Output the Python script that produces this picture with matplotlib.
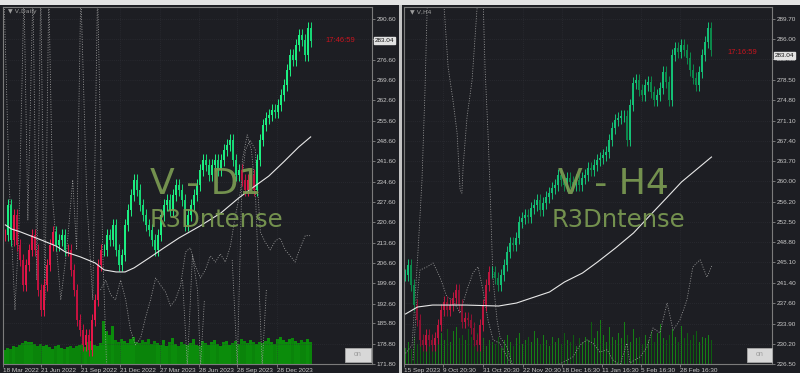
import matplotlib
matplotlib.use("Agg")
import matplotlib.pyplot as plt
import matplotlib.transforms as mtransforms
from matplotlib.patches import Rectangle

plt.rcParams['font.family'] = ['Liberation Sans', 'DejaVu Sans']

W, H = 800, 373
BG = "#1d1e23"

# ---------------- V, Daily ----------------
d1_close = [216.2, 226.6, 214.5, 223.1, 212.8, 207.6, 199.0, 205.9, 211.1, 216.2,
            211.1, 197.3, 190.4, 199.0, 205.9, 212.8, 217.3, 212.8, 214.5, 216.2,
            211.1, 211.1, 204.2, 197.3, 187.0, 183.5, 178.4, 181.8, 176.6, 187.0,
            193.9, 205.9, 211.1, 211.1, 216.2, 214.5, 219.7, 211.1, 205.9, 209.3,
            219.7, 224.8, 230.0, 235.2, 231.7, 226.6, 223.1, 219.7, 217.9, 214.5,
            211.1, 216.2, 223.1, 226.6, 228.3, 224.8, 230.0, 233.4, 231.7, 228.3,
            219.7, 223.1, 226.6, 230.0, 233.4, 238.6, 242.1, 240.3, 236.9, 240.3,
            242.1, 238.6, 242.1, 245.5, 247.2, 248.9, 242.1, 236.9, 238.6, 235.2,
            231.7, 235.2, 236.9, 231.7, 242.1, 248.9, 254.1, 256.5, 257.5, 259.3,
            258.6, 261.0, 264.4, 267.9, 273.0, 278.2, 276.5, 281.6, 285.1, 283.4,
            278.2, 287.5, 283.0]
d1_red_spans = [(0, 0), (3, 16), (21, 32), (79, 83)]
d1_volume = [4.5, 5.0, 4.8, 5.5, 5.2, 6.0,
             6.5, 7.2, 6.8, 7.0, 6.2,
             5.8, 6.3, 5.5, 6.0, 5.2, 4.8, 5.6, 6.1, 5.0, 4.6, 5.3, 5.8, 4.9, 5.5, 6.0,
             6.2, 5.4, 6.8, 7.1, 6.0, 5.8, 6.5,
             13.5, 10.2, 9.0, 11.8,
             7.5, 6.8, 8.0, 7.2, 6.5, 7.8, 8.5, 7.0, 6.6, 7.4, 6.8, 7.9, 6.2, 7.1, 6.7,
             6.0, 7.4, 5.6, 6.8, 8.2, 6.4, 5.8, 7.0, 6.2, 5.9,
             6.6, 7.8, 6.1, 5.7, 7.2, 6.5, 5.9, 6.8, 7.5, 6.3, 5.8, 6.9, 7.3, 6.0, 6.6, 7.1, 6.4,
             8.0, 7.2, 6.5, 7.6, 6.9, 6.2, 7.0,
             6.5, 7.3, 8.1, 7.0, 6.4, 7.7, 8.4, 7.5, 6.8, 7.9, 8.2, 7.1, 6.6, 7.4, 6.9, 7.8, 7.0]
d1_ma_x = [0, 2, 5, 12, 17, 20, 25, 30, 33, 37, 40, 43, 48, 53, 58, 65, 72, 78, 83, 88, 93, 98, 102]
d1_ma_y = [219.7, 218.3, 217.3, 214.5, 212.4, 210.4, 208.7, 206.6, 204.2, 203.5, 203.5, 204.9,
           208.3, 211.8, 215.2, 219.3, 223.8, 229.0, 232.8, 236.5, 241.4, 246.5, 250.0]
d1_dots = [
    ([-0.5, 1.2, 3.2, 4.5, 6.2, 7.5, 9.2, 10.5, 11.8, 13.2, 14.5, 15.8, 18.5, 20.5, 22.5,
      23.8, 25.2, 27.2, 29.2, 30.8, 32.5, 33.8],
     [300.6, 235.2, 190.4, 217.9, 300.6, 221.4, 300.6, 200.7, 300.6, 193.9, 300.6, 228.3,
      193.9, 211.1, 235.2, 211.1, 300.6, 228.3, 193.9, 300.6, 211.1, 171.5]),
    ([31.8, 33.5, 35.2, 36.8, 38.5, 40.2, 41.8, 43.5, 45.2, 46.8, 48.5, 50.2, 51.8, 53.5,
      55.2, 56.8, 58.5, 60.2, 61.8, 63.5, 65.2, 66.8, 68.5, 70.2, 71.8, 73.5, 75.2, 76.8,
      78.5, 80.2, 81.8, 83.5, 85.2, 86.8, 88.5, 90.2, 91.8, 93.5, 95.2, 96.8, 98.5, 100.2, 101.8],
     [197.3, 200.7, 195.6, 193.9, 200.7, 193.9, 183.5, 178.4, 180.8, 187.7, 193.9, 201.4,
      199.0, 196.6, 191.8, 193.9, 198.7, 210.4, 211.8, 205.6, 201.4, 204.2, 209.0, 206.9,
      209.7, 206.9, 212.4, 222.8, 231.0, 245.5, 248.9, 245.5, 217.3, 213.8, 211.1, 214.2,
      215.2, 211.1, 209.0, 206.9, 211.8, 216.0, 216.0]),
    ([59.2, 60.8, 62.5, 64.2, 65.2, 66.5],
     [200.7, 171.1, 209.3, 197.3, 171.1, 193.9]),
    ([75.8, 77.5, 79.2, 80.8, 82.2, 83.5, 85.8, 87.2],
     [207.6, 171.1, 242.1, 250.7, 245.5, 231.7, 171.1, 197.3]),
]
d1_yticks = ["290.60", "283.60", "276.60", "269.60", "262.60", "255.60", "248.60", "241.60",
             "234.60", "227.60", "220.60", "213.60", "206.60", "199.60", "192.60", "185.80",
             "178.80", "171.80"]
d1_dates = ["18 Mar 2022", "21 Jun 2022", "21 Sep 2022", "21 Dec 2022", "27 Mar 2023",
            "28 Jun 2023", "28 Sep 2023", "28 Dec 2023"]
d1_date_pos = [-0.8, 11.8, 25.2, 38.2, 51.5, 64.8, 77.5, 90.8]

# ---------------- V, H4 ----------------
h4_close = [242.80, 244.63, 240.97, 237.30, 234.56, 230.89, 229.97, 231.81, 230.89, 229.97,
            231.26, 233.64, 236.39, 237.85, 236.39, 237.30, 238.59, 240.05, 237.30, 234.19,
            234.92, 234.56, 233.09, 230.89, 229.97, 233.64, 237.30, 240.97, 243.35, 243.35,
            242.25, 240.97, 242.80, 244.63, 247.01, 248.66, 248.30, 249.58, 252.51, 253.24,
            253.79, 253.43, 255.08, 255.62, 256.54, 254.71, 255.99, 257.09, 257.82, 258.74,
            259.29, 261.12, 260.20, 259.29, 260.57, 259.84, 259.29, 260.20, 259.29, 260.57,
            261.12, 262.40, 262.04, 262.95, 263.87, 264.24, 264.78, 265.33, 267.53, 269.73,
            271.20, 271.56, 271.93, 271.93, 267.53, 273.94, 277.98, 278.52, 276.69, 275.78,
            277.61, 278.16, 276.33, 274.86, 275.78, 277.06, 279.99, 278.16, 274.86, 283.10,
            284.39, 283.65, 284.94, 284.02, 282.56, 280.36, 278.89, 277.61, 279.99, 283.10,
            285.49, 288.05, 284.02]
h4_red_spans = [(4, 28)]
h4_volume = [0.9, 1.2, 0.8, 1.5, 1.1, 1.3, 1.0, 1.6, 1.2, 0.9,
             1.4, 1.1, 1.7, 1.3, 1.9, 1.2, 1.8, 2.0, 1.4, 1.6,
             1.3, 1.9, 1.5, 1.2, 1.7, 1.1, 1.4, 1.0, 1.3, 1.2,
             1.1, 1.5, 0.9, 1.3, 1.6, 1.2, 1.0, 1.4, 1.7, 1.1,
             1.3, 1.5, 1.2, 1.8, 1.4, 1.1, 1.6, 1.3, 1.0, 1.5,
             1.2, 1.4, 1.1, 1.7, 1.3, 1.2, 1.6, 1.0, 1.4, 1.2,
             1.5, 1.3, 2.3, 1.4, 1.8, 2.4, 1.6, 1.2, 2.0, 1.5,
             1.3, 1.7, 1.4, 2.3, 1.6, 1.2, 1.9, 1.4, 1.5, 1.1,
             1.6, 1.3, 1.8, 1.2, 1.7, 2.2, 1.4, 1.3, 1.6, 1.9,
             1.5, 1.2, 2.1, 1.4, 1.7, 1.3, 1.6, 1.8, 1.2, 1.5,
             1.4, 1.6, 1.3]
h4_ma_x = [0, 4, 9, 20, 31, 37, 42, 48, 53, 59, 64, 70, 76, 81, 87, 92, 102]
h4_ma_y = [235.66, 236.94, 237.30, 237.30, 237.12, 237.67, 238.59, 239.69, 241.52, 243.17,
           245.18, 247.75, 250.50, 253.43, 256.91, 259.84, 264.42]
h4_dots = [
    ([-0.5, 2.2, 4.2, 5.5, 6.5, 7.2, 7.5],
     [228.1, 229.97, 247.4, 260.2, 276.7, 291.3, 295.0]),
    ([12.5, 14.2, 15.8, 17.2, 18.2, 18.8, 19.2, 20.5, 22.2, 23.8, 24.5],
     [295.0, 280.9, 274.9, 268.8, 258.4, 257.8, 262.6, 271.7, 278.5, 291.3, 295.0]),
    ([25.8, 26.5, 27.5, 28.2, 28.8, 29.2, 30.5, 31.5, 33.8, 35.8],
     [295.0, 280.9, 268.8, 258.4, 247.9, 241.9, 234.6, 231.4, 229.6, 226.1]),
    ([2.5, 3.8, 4.8, 7.2, 9.2, 11.5, 13.8, 15.8, 18.2, 20.5, 22.5, 24.2, 25.8, 27.5, 29.2,
      31.5, 33.8, 35.8],
     [227.2, 238.2, 243.7, 244.3, 245.0, 242.4, 238.8, 238.2, 235.8, 240.1, 243.2, 244.3,
      240.1, 234.6, 230.9, 230.3, 227.8, 226.1]),
    ([49.8, 55.8, 58.2, 60.5, 62.5, 64.8, 67.2, 69.2, 71.5, 73.8, 74.8, 78.2, 80.5, 82.5,
      84.8, 87.2, 89.2, 91.5, 93.8, 95.8, 98.2, 100.5, 102.2],
     [226.0, 227.8, 230.0, 230.9, 230.3, 228.7, 229.1, 227.2, 226.3, 230.3, 226.7, 227.8,
      229.6, 233.1, 232.2, 237.7, 232.7, 234.6, 238.2, 244.3, 245.6, 242.4, 244.6]),
]
h4_yticks = ["289.70", "286.00", "282.30", "278.50", "274.80", "271.10", "267.40", "263.70",
             "260.00", "256.20", "252.50", "248.80", "245.10", "241.40", "237.60", "233.90",
             "230.20", "226.50"]
h4_dates = ["15 Sep 2023", "9 Oct 20:30", "31 Oct 20:30", "22 Nov 20:30", "18 Dec 16:30",
            "11 Jan 16:30", "5 Feb 16:30", "28 Feb 16:30"]
h4_date_pos = [-0.5, 12.5, 25.8, 39.2, 52.2, 65.5, 78.5, 91.5]

last_price = 283.04


def frac(x0, y0, x1, y1):
    return [x0 / W, 1 - y1 / H, (x1 - x0) / W, (y1 - y0) / H]


def panel(fig, box, closes, red_spans, vols, vol_top, ma_x, ma_y, dots, yticks, ylim, xlim,
          dates, date_pos, greens, reds, vol_cols, vol_width, wick):
    axv = fig.add_axes(box, zorder=0)
    axv.set_facecolor(BG)
    axv.set_axis_off()
    ax = fig.add_axes(box, zorder=1)
    ax.set_facecolor("none")

    n = len(closes)
    idx = list(range(n))
    opens = [closes[0]] + closes[:-1]
    red = [any(a <= i <= b for a, b in red_spans) for i in idx]
    up = [c >= o for o, c in zip(opens, closes)]

    vc = [vol_cols[0] if u else vol_cols[1] for u in up]
    axv.bar(idx, vols, width=vol_width, color=vc, linewidth=0)
    axv.set_xlim(*xlim)
    axv.set_ylim(0, vol_top)

    lo = [min(o, c) - wick for o, c in zip(opens, closes)]
    hi = [max(o, c) + wick for o, c in zip(opens, closes)]
    cols = []
    for r, u in zip(red, up):
        pal = reds if r else greens
        cols.append(pal[0] if u else pal[1])
    # wicks and thicker bodies
    ax.vlines(idx, lo, hi, colors=cols, lw=0.7, zorder=3)
    ax.vlines(idx, [min(o, c) for o, c in zip(opens, closes)],
              [max(o, c) for o, c in zip(opens, closes)], colors=cols, lw=1.4, zorder=3)

    for xs, ys in dots:
        ax.plot(xs, ys, color="#9c9c9c", lw=0.6, ls=(0, (1.2, 1.8)), zorder=2)
    ax.plot(ma_x, ma_y, color="#e8e8e8", lw=0.8, zorder=4)

    ax.set_xlim(*xlim)
    ax.set_ylim(*ylim)
    ax.yaxis.tick_right()
    ax.set_yticks([float(t) for t in yticks], yticks)
    ax.set_xticks(date_pos, dates)
    for lbl in ax.get_xticklabels():
        lbl.set_horizontalalignment("left")
    ax.tick_params(axis="both", length=2, width=0.5, color="#9a9a9a", labelsize=4.6,
                   labelcolor="#c9c9c9", pad=1.2)
    ax.grid(True, color="#313239", lw=0.5, ls=(0, (1, 2)))
    for s in ax.spines.values():
        s.set_color("#7c7c7c")
        s.set_linewidth(0.8)

    tr = mtransforms.blended_transform_factory(ax.transAxes, ax.transData)
    ax.text(1.008, last_price, "283.04", transform=tr, ha="left", va="center", fontsize=4.6,
            color="#141414", zorder=10, clip_on=False,
            bbox=dict(boxstyle="square,pad=0.15", fc="#e2e2e2", ec="#e2e2e2"))
    return ax


fig = plt.figure(figsize=(W / 100, H / 100), dpi=100, facecolor=BG)

panel(fig, frac(3, 7, 372, 364), d1_close, d1_red_spans, d1_volume, 112, d1_ma_x, d1_ma_y,
      d1_dots, d1_yticks, (171.8, 294.73), (-0.5, 122.5), d1_dates, d1_date_pos,
      ("#1ef283", "#17d977"), ("#e8174a", "#c51240"), ("#0b8c0b", "#0a840a"), 1.0, 2.0)

panel(fig, frac(404, 7, 772, 364), h4_close, h4_red_spans, h4_volume, 19.5, h4_ma_x, h4_ma_y,
      h4_dots, h4_yticks, (226.5, 291.9), (-0.5, 122.17), h4_dates, h4_date_pos,
      ("#14c277", "#0c8a4c"), ("#c0163f", "#8e1233"), ("#157f15", "#0e5e10"), 0.6, 1.1)

# toolbar strip and panel separator
fig.add_artist(Rectangle((0, 1 - 5 / H), 1, 5 / H, transform=fig.transFigure,
                         fc="#e4e4e4", ec="none", zorder=5))
fig.add_artist(Rectangle((399 / W, 0), 2.5 / W, 1 - 5 / H, transform=fig.transFigure,
                         fc="#c4c4c4", ec="none", zorder=5))

# "on" buttons
for x0, x1 in [(345, 371), (747, 772)]:
    fig.add_artist(Rectangle((x0 / W, 1 - 362 / H), (x1 - x0) / W, 14 / H,
                             transform=fig.transFigure, fc="#d8d8d8", ec="#a8a8a8",
                             lw=0.6, zorder=6))
    fig.text((x0 + x1) / 2 / W, 1 - 355 / H, "on", ha="center", va="center",
             fontsize=5, color="#9c9c9c", zorder=7)

# chart captions and timers
fig.text(8 / W, 1 - 12 / H, "▼ V,Daily", fontsize=4.4, color="#9c9c9c", va="center",
         family=["DejaVu Sans"], zorder=7)
fig.text(410 / W, 1 - 12 / H, "▼ V,H4", fontsize=4.4, color="#9c9c9c", va="center",
         family=["DejaVu Sans"], zorder=7)
fig.text(355 / W, 1 - 40 / H, "17:46:59", ha="right", va="center", fontsize=5.5,
         color="#c8141e", zorder=7)
fig.text(757 / W, 1 - 53 / H, "17:16:59", ha="right", va="center", fontsize=5.5,
         color="#c8141e", zorder=7)

# watermarks
wm = "#7b9b52"
fig.text(206 / W, 1 - 184 / H, "V - D1", ha="center", va="center", fontsize=26, color=wm,
         family=["DejaVu Sans"], alpha=0.92, zorder=8)
fig.text(216 / W, 1 - 220 / H, "R3Dntense", ha="center", va="center", fontsize=17.5,
         color=wm, family=["DejaVu Sans"], alpha=0.92, zorder=8)
fig.text(613 / W, 1 - 184 / H, "V - H4", ha="center", va="center", fontsize=26, color=wm,
         family=["DejaVu Sans"], alpha=0.92, zorder=8)
fig.text(618 / W, 1 - 220 / H, "R3Dntense", ha="center", va="center", fontsize=17.5,
         color=wm, family=["DejaVu Sans"], alpha=0.92, zorder=8)

fig.savefig("out.png", dpi=100, facecolor=BG)
